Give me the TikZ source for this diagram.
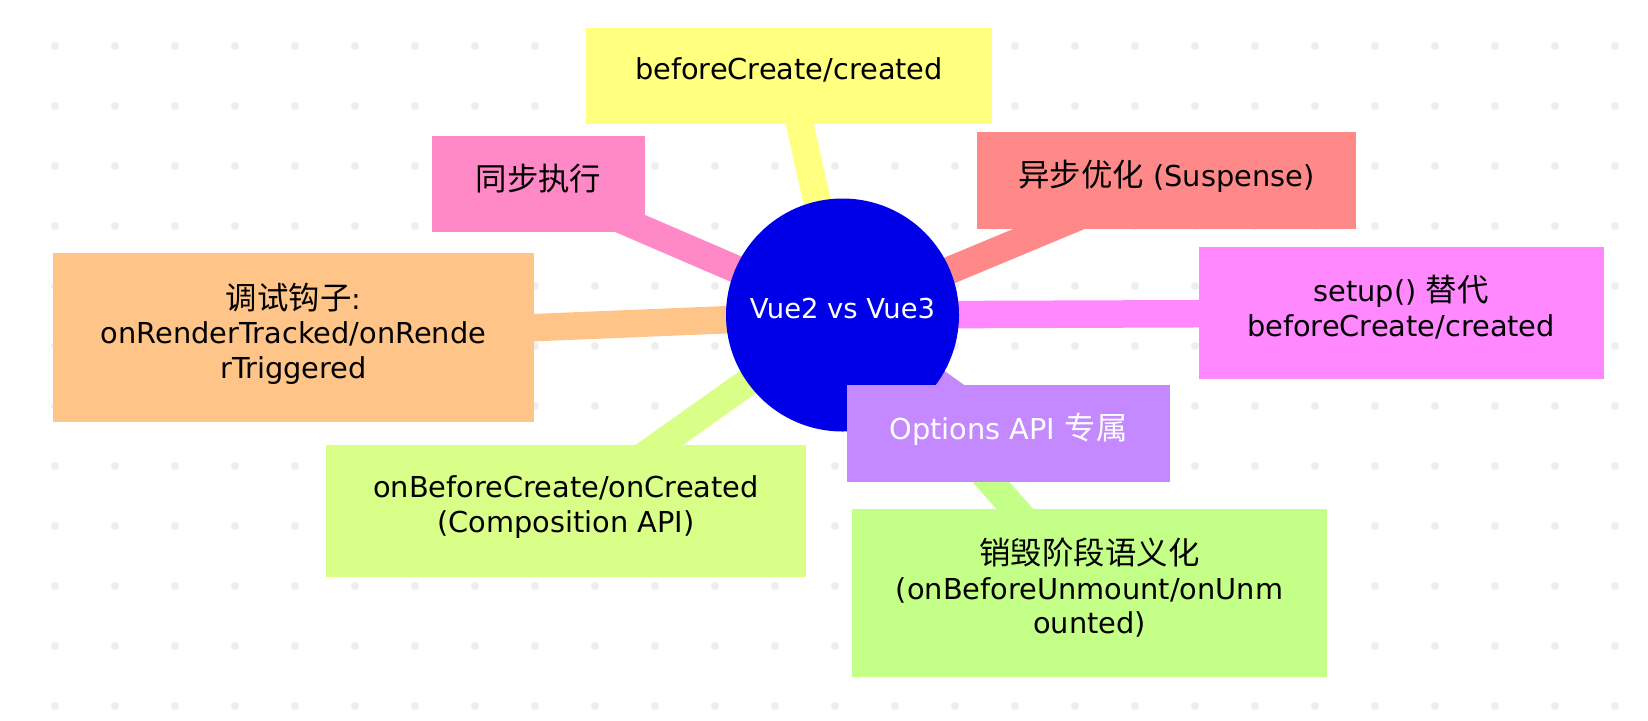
\documentclass[tikz,border=0pt]{standalone}
\usepackage{fontspec}
\setmainfont{DejaVu Sans}
\newfontfamily\cjk{Noto Sans CJK SC}[Scale=1.09]
\usetikzlibrary{backgrounds}

\definecolor{dotgrey}{HTML}{EEEEEE}
\definecolor{rootblue}{HTML}{0000E8}
\definecolor{cyellow}{HTML}{FFFF80}
\definecolor{cpink}{HTML}{FF88C6}
\definecolor{csalmon}{HTML}{FF8888}
\definecolor{cmagenta}{HTML}{FF88FF}
\definecolor{corange}{HTML}{FFC488}
\definecolor{clime}{HTML}{DAFF88}
\definecolor{cpurple}{HTML}{C488FF}
\definecolor{cgreen}{HTML}{C4FF88}

% pushes the text a little above the middle of its box
\newcommand{\lowstrut}{\rule[-8pt]{0pt}{8pt}}

\begin{document}
\begin{tikzpicture}[
  box/.style={rectangle,inner sep=0pt,align=center,font=\fontsize{16.4}{19.6}\selectfont},
  link/.style={line width=0.55cm}
]
\useasboundingbox (0,0) rectangle (32.96,-14.4);

% dotted paper
\begin{scope}[on background layer]
\foreach \i in {0,...,26}
  \foreach \j in {0,...,11}
    \fill [dotgrey] (1.1+1.2*\i,-0.92-1.2*\j) circle (0.08);
\end{scope}

\node [box,circle,fill=rootblue,text=white,minimum size=4.66cm,font=\fontsize{15.6}{18}\selectfont] (root) at (16.85,-6.3) {Vue2 vs Vue3\lowstrut};

\node [box,fill=cyellow,minimum width=8.12cm,minimum height=1.92cm] (created) at (15.78,-1.52) {beforeCreate/created\lowstrut};
\node [box,fill=cpink,minimum width=4.26cm,minimum height=1.92cm] (sync) at (10.77,-3.68) {{\cjk 同步执行}\lowstrut};
\node [box,fill=csalmon,minimum width=7.58cm,minimum height=1.94cm] (async) at (23.33,-3.6) {{\cjk 异步优化} (Suspense)\lowstrut};
\node [box,fill=cmagenta,minimum width=8.1cm,minimum height=2.64cm] (setup) at (28.02,-6.26) {setup() {\cjk 替代}\\beforeCreate/created\lowstrut};
\node [box,fill=corange,minimum width=9.62cm,minimum height=3.38cm] (debug) at (5.87,-6.75) {{\cjk 调试钩子}:\\onRenderTracked/onRende\\rTriggered\lowstrut};
\node [box,fill=clime,minimum width=9.6cm,minimum height=2.64cm] (compo) at (11.32,-10.22) {onBeforeCreate/onCreated\\(Composition API)\lowstrut};
\node [box,fill=cpurple,text=white,minimum width=6.46cm,minimum height=1.94cm] (options) at (20.17,-8.67) {Options API {\cjk 专属}\lowstrut};
\node [box,fill=cgreen,minimum width=9.5cm,minimum height=3.36cm] (unmount) at (21.79,-11.86) {{\cjk 销毁阶段语义化}\\(onBeforeUnmount/onUnm\\ounted)\lowstrut};

% branches
\begin{scope}[on background layer]
\draw [link,cyellow] (root.center) -- (created.center);
\draw [link,cpink] (root.center) -- (sync.center);
\draw [link,csalmon] (root.center) -- (async.center);
\draw [link,cmagenta] (root.center) -- (setup.center);
\draw [link,corange] (root.center) -- (debug.center);
\draw [link,clime] (root.center) -- (compo.center);
\draw [link,cpurple] (root.center) -- (options.center);
\draw [link,cgreen] (root.center) -- (unmount.center);
\end{scope}
\end{tikzpicture}
\end{document}
